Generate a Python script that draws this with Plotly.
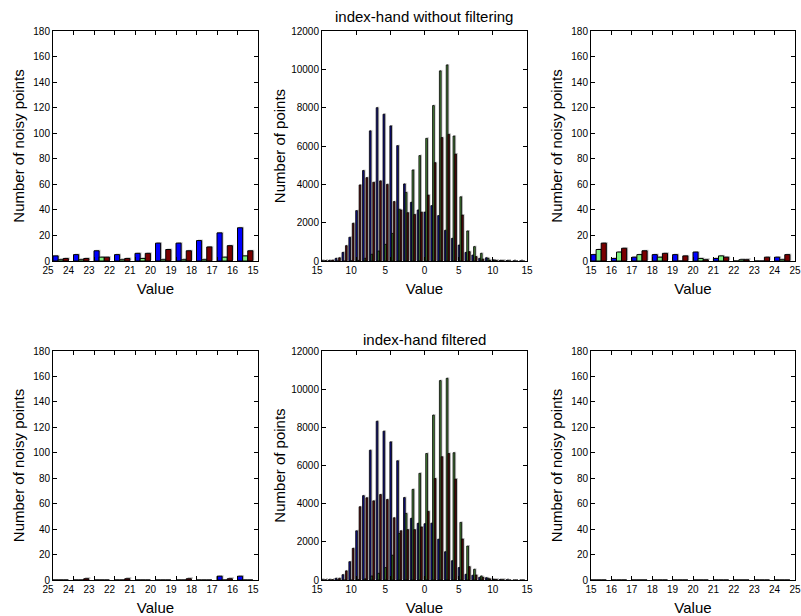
import plotly.graph_objects as go
from plotly.subplots import make_subplots

# bin left edges
neg_bins = list(range(-25, -15))
pos_bins = list(range(15, 25))
mid_bins = list(range(-15, 15))

# tick labels (the minus signs are missing in the original)
neg_ticks = list(range(-25, -14))
pos_ticks = list(range(15, 26))
mid_ticks = [-15, -10, -5, 0, 5, 10, 15]

# top row: index-hand without filtering
tl_blue = [4, 5, 8, 5, 6, 14, 14, 16, 22, 26]
tl_green = [1, 1, 3, 1, 2, 1, 1, 1, 3, 4]
tl_red = [2, 2, 3, 2, 6, 9, 8, 11, 12, 8]

tm_blue = [10, 30, 140, 450, 1240, 2630, 4720, 6790, 8000, 7660, 7050, 6020, 4020, 3060, 2660,
           2550, 2890, 2370, 1600, 1180, 830, 450, 310, 140, 170, 60, 30, 20, 10, 10]
tm_green = [0, 0, 0, 0, 10, 30, 140, 350, 520, 870, 1440, 2700, 3580, 4750, 5500,
            6400, 8110, 9920, 10230, 6520, 3350, 1570, 750, 400, 140, 50, 20, 10, 0, 0]
tm_red = [20, 50, 170, 800, 1970, 3970, 4350, 4110, 4180, 4000, 3100, 2660, 2520, 2430, 2550,
          3440, 5130, 6440, 6610, 5580, 2400, 490, 230, 100, 40, 20, 10, 0, 0, 0]

tr_blue = [5, 2, 3, 5, 5, 7, 2, 0, 0, 3]
tr_green = [9, 7, 5, 3, 0, 2, 4, 1, 0, 1]
tr_red = [14, 10, 8, 6, 4, 1, 3, 1, 3, 5]

# bottom row: index-hand filtered
bl_blue = [0, 0, 0, 0, 0, 0, 0, 0, 3, 3]
bl_green = [0, 0, 0, 0, 0, 0, 0, 0, 0, 0]
bl_red = [0, 1, 0, 1, 0, 0, 1, 0, 1, 0]

bm_blue = [10, 20, 90, 280, 960, 2580, 4420, 6800, 8320, 7800, 7240, 6250, 4320, 3230, 2970,
           2950, 2980, 2140, 1480, 1010, 650, 300, 250, 140, 120, 40, 20, 10, 0, 0]
bm_green = [0, 0, 0, 0, 0, 20, 60, 210, 350, 650, 1300, 2440, 3490, 4750, 5590,
            6630, 8640, 10450, 10570, 6670, 3020, 1780, 560, 210, 90, 30, 10, 0, 0, 0]
bm_red = [10, 20, 90, 480, 1660, 3840, 4310, 4150, 4480, 4220, 3260, 2580, 2640, 2640, 2780,
          3600, 5320, 6460, 6630, 5290, 2150, 700, 260, 140, 60, 20, 10, 0, 0, 0]

br_blue = [0, 0, 0, 0, 0, 0, 0, 0, 0, 0]
br_green = [0, 0, 0, 0, 0, 0, 0, 0, 0, 0]
br_red = [0, 0, 0, 0, 0, 0, 0, 0, 0, 0]

COLORS = ['#0000ff', '#80f080', '#7a0000']
MID_COLORS = ['#10108a', '#4a8a3a', '#5a0a0a']
SHADOW = '#c8c8c8'
FONT = 'Liberation Sans, Arial, sans-serif'

fig = make_subplots(rows=2, cols=3)


def add_hist(row, col, bins, series, colors, start, width, dx, dy, line_w):
    # grey drop shadow behind every bar, like in the original export
    for i, values in enumerate(series):
        fig.add_trace(go.Bar(
            x=bins, y=[v if v > 0 else None for v in values], base=dy,
            offset=start + i * width + dx, width=width,
            marker=dict(color=SHADOW, line=dict(width=0)),
            showlegend=False, hoverinfo='skip'), row=row, col=col)
    for i, (values, color) in enumerate(zip(series, colors)):
        fig.add_trace(go.Bar(
            x=bins, y=values, offset=start + i * width, width=width,
            marker=dict(color=color, line=dict(color='black', width=line_w)),
            showlegend=False), row=row, col=col)


add_hist(1, 1, neg_bins, [tl_blue, tl_green, tl_red], COLORS, 0.0, 0.25, 0.07, 0.8, 1)
add_hist(1, 2, mid_bins, [tm_blue, tm_green, tm_red], MID_COLORS, -0.07, 0.25, 0.2, 50, 0.8)
add_hist(1, 3, pos_bins, [tr_blue, tr_green, tr_red], COLORS, 0.0, 0.25, 0.07, 0.8, 1)
add_hist(2, 1, neg_bins, [bl_blue, bl_green, bl_red], COLORS, 0.0, 0.25, 0.07, 0.8, 1)
add_hist(2, 2, mid_bins, [bm_blue, bm_green, bm_red], MID_COLORS, -0.07, 0.25, 0.2, 50, 0.8)
add_hist(2, 3, pos_bins, [br_blue, br_green, br_red], COLORS, 0.0, 0.25, 0.07, 0.8, 1)

x_domains = [[53 / 801, 258 / 801], [322 / 801, 527 / 801], [591 / 801, 795 / 801]]
y_domains = [[1 - 261 / 616, 1 - 31 / 616], [1 - 580 / 616, 1 - 351 / 616]]

axis_style = dict(
    showline=True, linecolor='black', linewidth=1, mirror='ticks',
    ticks='inside', ticklen=4, tickcolor='black', showgrid=False, zeroline=False,
    automargin=False, tickangle=0,
    tickfont=dict(family=FONT, size=10, color='black'),
)


def tick_text(values):
    # negative labels lost their minus sign but keep its space
    return [str(abs(v)) + ('\u2003' if v < 0 else '') for v in values]


for row in (1, 2):
    for col in (1, 2, 3):
        if col == 1:
            xr, xt = [-25, -15], neg_ticks
        elif col == 2:
            xr, xt = [-15, 15], mid_ticks
        else:
            xr, xt = [15, 25], pos_ticks
        fig.update_xaxes(
            axis_style, domain=x_domains[col - 1], range=xr,
            tickvals=xt, ticktext=tick_text(xt),
            title=dict(text='Value', font=dict(family=FONT, size=15, color='black'), standoff=8),
            row=row, col=col)
        if col == 2:
            fig.update_yaxes(
                axis_style, domain=y_domains[row - 1], range=[0, 12000], dtick=2000,
                tickformat='d',
                title=dict(text='Number of points', font=dict(family=FONT, size=15, color='black'),
                           standoff=1),
                row=row, col=col)
        else:
            fig.update_yaxes(
                axis_style, domain=y_domains[row - 1], range=[0, 180], dtick=20,
                title=dict(text='Number of noisy points', font=dict(family=FONT, size=15, color='black'),
                           standoff=5),
                row=row, col=col)

fig.add_annotation(text='index-hand without filtering', x=424.5 / 801, y=1 - 16 / 616,
                   xref='paper', yref='paper', showarrow=False, yanchor='middle',
                   font=dict(family=FONT, size=15, color='black'))
fig.add_annotation(text='index-hand filtered', x=424.5 / 801, y=1 - 339 / 616,
                   xref='paper', yref='paper', showarrow=False, yanchor='middle',
                   font=dict(family=FONT, size=15, color='black'))

fig.update_layout(
    width=801, height=616, barmode='overlay',
    margin=dict(l=0, r=0, t=0, b=0),
    paper_bgcolor='white', plot_bgcolor='white',
    font=dict(family=FONT, color='black'),
)

# drop the default page margin so the figure sits at the window corner
fig.write_html("out.html", config={'displayModeBar': False},
               post_script="document.body.style.margin = '0';")
